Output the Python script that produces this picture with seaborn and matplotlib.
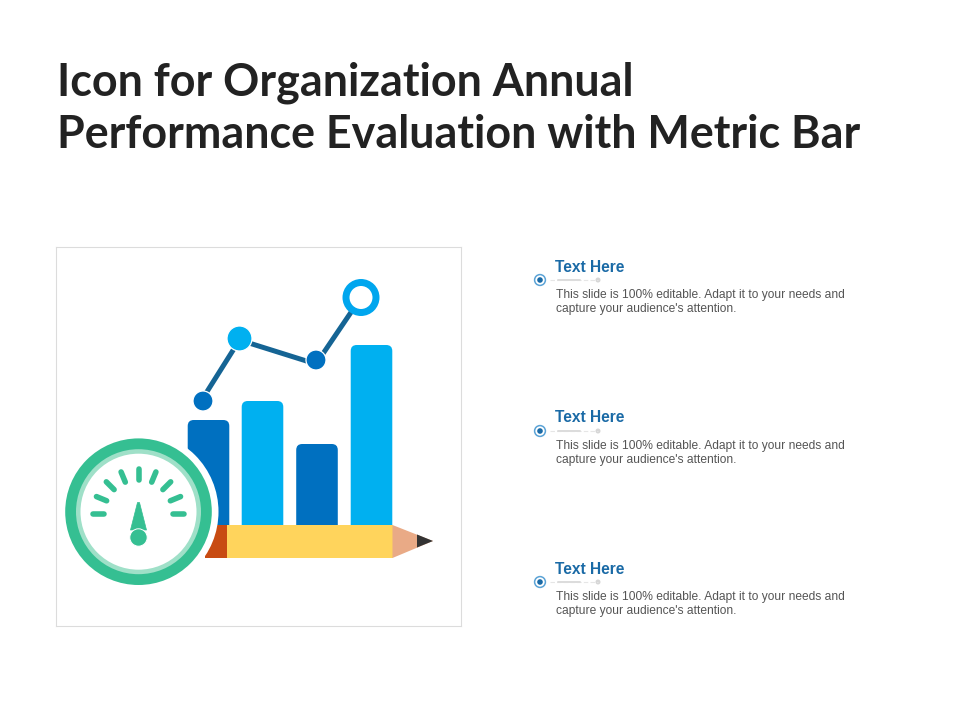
import numpy as np
import pandas as pd
import matplotlib
matplotlib.use("Agg")
import matplotlib.pyplot as plt
from matplotlib.patches import Circle, FancyBboxPatch, Polygon, Rectangle
import seaborn as sns

# chart values
bar_names = ["A", "B", "C", "D"]
bar_pos = [208.5, 262.5, 317.0, 371.5]
bar_values = [105, 124, 81, 180]
bar_colors = ["#0070c0", "#00b0f0", "#0070c0", "#00b0f0"]
line_x = [203.0, 239.5, 316.0, 361.0]
line_y = [127.0, 185.0, 161.0, 227.5]
node_y = [124.0, 186.5, 165.0, 227.5]

title_lines = ["Icon for Organization Annual", "Performance Evaluation with Metric Bar"]
item_title = "Text Here"
item_body = ["This slide is 100% editable. Adapt it to your needs and",
             "capture your audience's attention."]
item_rows = [280, 431, 582]

GREEN = "#35bf92"
BASE = 525  # pencil top in figure pixels

sns.set_style("white")
plt.rcParams["font.family"] = ["Liberation Sans", "DejaVu Sans"]

fig = plt.figure(figsize=(9.6, 7.2), dpi=100)

# overlay in figure pixels for the text and bullets
page = fig.add_axes([0, 0, 1, 1], zorder=2)
page.set_xlim(0, 960)
page.set_ylim(720, 0)
page.axis("off")

# framed chart box, one data unit = one pixel, y measured up from the pencil
ax = fig.add_axes([56.3 / 960, (720 - 625.7) / 720, 404.4 / 960, 378.4 / 720], zorder=1)
df = pd.DataFrame({"pos": bar_pos, "value": bar_values, "name": bar_names})
sns.barplot(data=df, x="pos", y="value", hue="name", palette=bar_colors, native_scale=True,
            dodge=False, width=0.77, saturation=1, legend=False, ax=ax)
ax.set_xlim(56.3, 460.7)
ax.set_ylim(BASE - 625.7, BASE - 247.3)
ax.set_xticks([])
ax.set_yticks([])
ax.set_xlabel("")
ax.set_ylabel("")
for s in ax.spines.values():
    s.set_color("#dcdcdc")
    s.set_linewidth(0.8)

# rounded tops on the bars
for bar in list(ax.patches):
    x, w, h = bar.get_x(), bar.get_width(), bar.get_height()
    ax.add_patch(FancyBboxPatch((x, -10), w, h + 10, boxstyle="round,pad=0,rounding_size=6",
                                fc=bar.get_facecolor(), ec="none", zorder=2))
    bar.set_visible(False)

# trend line and its nodes
sns.lineplot(x=line_x, y=line_y, sort=False, color="#156494", linewidth=3.6, ax=ax, zorder=3)
node_r = [10, 12.5, 10]
node_c = ["#0070c0", "#00b0f0", "#0070c0"]
for x, y, r, c in zip(line_x, node_y, node_r, node_c):
    ax.add_patch(Circle((x, y), r, fc=c, ec="white", lw=0.9, zorder=4))
ax.add_patch(Circle((line_x[3], node_y[3]), 18.5, fc="#00a6ee", ec="none", zorder=4))
ax.add_patch(Circle((line_x[3], node_y[3]), 11.5, fc="white", ec="none", zorder=5))

# pencil
ax.add_patch(Rectangle((205, -33), 22, 33, fc="#c84b12", ec="none", zorder=3))
ax.add_patch(Rectangle((227, -33), 165.5, 33, fc="#ffd45c", ec="none", zorder=3))
ax.add_patch(Polygon([(392.5, 0), (392.5, -33), (433, -16)], fc="#e9aa86", ec="none", zorder=3))
ax.add_patch(Polygon([(417, -9.5), (417, -22.5), (433, -16)], fc="#333333", ec="none", zorder=4))

# gauge
cx, cy = 138.5, BASE - 511.7
ax.add_patch(Circle((cx, cy), 80, fc="white", ec="none", zorder=6))
ax.add_patch(Circle((cx, cy), 73.3, fc=GREEN, ec="none", zorder=6))
ax.add_patch(Circle((cx, cy), 62.5, fc="#9fe0c8", ec="none", zorder=6))
ax.add_patch(Circle((cx, cy), 58, fc="white", ec="none", zorder=6))
tick_y = cy - 2.3
for deg in np.arange(0, 181, 22.5):
    a = np.deg2rad(deg)
    ax.plot([cx + 34.5 * np.cos(a), cx + 45.5 * np.cos(a)],
            [tick_y + 34.5 * np.sin(a), tick_y + 45.5 * np.sin(a)],
            color=GREEN, lw=4.0, solid_capstyle="round", zorder=7)
ax.add_patch(Polygon([(cx - 8, BASE - 530), (cx + 8, BASE - 530), (cx + 1, BASE - 502.5), (cx - 1, BASE - 502.5)],
                     fc=GREEN, ec=GREEN, lw=0.5, joinstyle="round", zorder=7))
ax.add_patch(Circle((cx, BASE - 537.5), 8.7, fc=GREEN, ec="white", lw=0.7, zorder=8))

# title
for line, y in zip(title_lines, [95, 148]):
    page.text(57, y, line, fontsize=32.3, fontweight="bold", family=["Lato", "DejaVu Sans"],
              color="#222222", ha="left", va="baseline")

# text items
for row in item_rows:
    page.text(555, row - 8.5, item_title, fontsize=11.2, fontweight="bold", color="#1a6aa6",
              ha="left", va="baseline")
    for k, line in enumerate(item_body):
        page.text(555.5, row + 18 + 14 * k, line, fontsize=8.63, color="#555555",
                  ha="left", va="baseline")
    page.plot([550, 598], [row, row], color="#e6e6e6", lw=0.8, ls=(0, (4, 2)))
    page.plot([558, 580], [row, row], color="#dcdcdc", lw=1.4)
    page.add_patch(Circle((598, row), 2.5, fc="#d6d6d6", ec="none"))
    page.add_patch(Circle((540, row), 5.4, fc="white", ec="#5ba3d6", lw=1.1))
    page.add_patch(Circle((540, row), 2.8, fc="#1a6aa6", ec="none"))

fig.savefig("out.png", dpi=100)
